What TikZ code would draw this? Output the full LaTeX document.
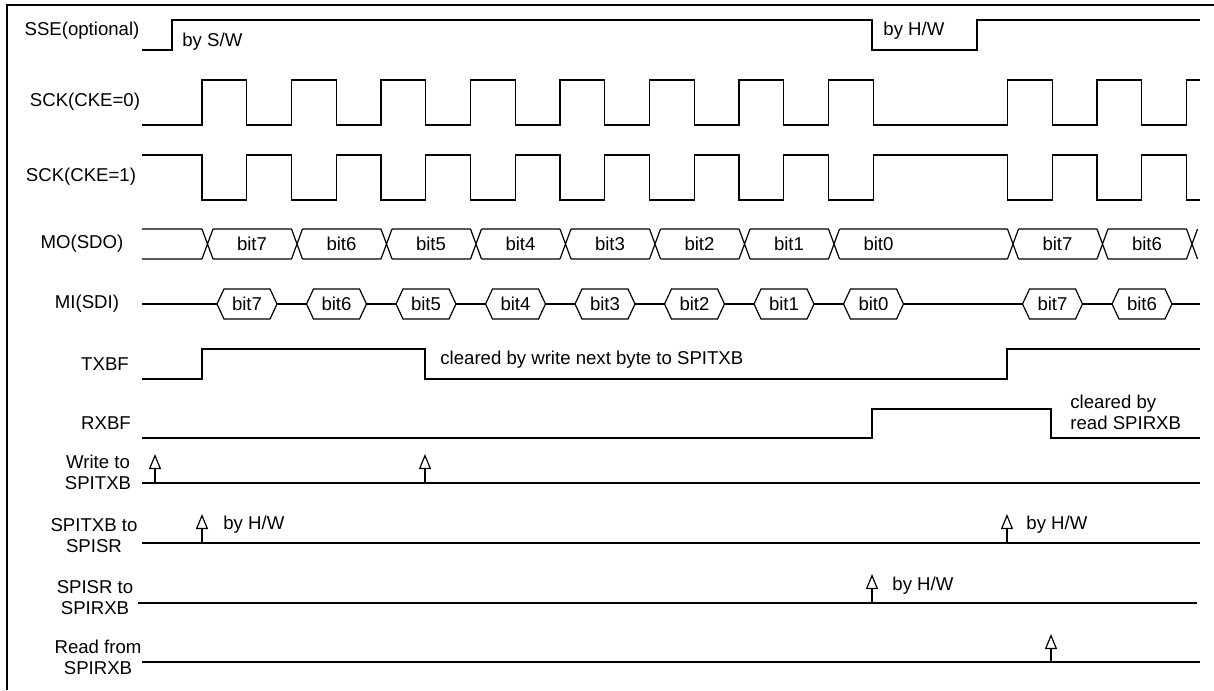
\documentclass[tikz,border=0pt]{standalone}
\usepackage{fontspec}
\setmainfont{Liberation Sans}
\usetikzlibrary{arrows.meta}

\tikzset{
    sig/.style={line width=0.6pt},
    lbl/.style={font=\fontsize{9.3}{10.5}\selectfont, inner sep=0pt},
    evt/.style={-{Triangle[open,length=7.5pt,width=6pt]}, line width=0.6pt},
}

\begin{document}
\begin{tikzpicture}[x=0.5pt, y=-0.5pt]
    \useasboundingbox (0,0) rectangle (1214,690);
    \draw[line width=1pt] (7,690) -- (7,5) -- (1214,5);

    % signal names
    \node[lbl] (sse) at (82,31) {SSE(optional)};
    \node[lbl] (sckA) at (85,102) {SCK(CKE=0)};
    \node[lbl] (sckB) at (81,177) {SCK(CKE=1)};
    \node[lbl] (mo) at (82,244) {MO(SDO)};
    \node[lbl] (mi) at (87,304) {MI(SDI)};
    \node[lbl] (txbf) at (105,364) {TXBF};
    \node[lbl] (rxbf) at (106,423) {RXBF};
    \node[lbl, align=center] (wrtx) at (98,472) {Write to\\SPITXB};
    \node[lbl, align=center] (txsr) at (94,536) {SPITXB to\\SPISR};
    \node[lbl, align=center] (srrx) at (95,598) {SPISR to\\SPIRXB};
    \node[lbl, align=center] (rdrx) at (98,657) {Read from\\SPIRXB};

    % SSE
    \draw[sig] (142,50) -- (172,50) -- (172,20) -- (872,20) -- (872,50) -- (977,50) -- (977,20) -- (1200,20);
    \node[lbl, anchor=west] (bysw) at (182,42) {by S/W};
    \node[lbl, anchor=west] (byhwA) at (883,31) {by H/W};

    % clocks
    \draw[sig] (142,125) foreach \k in {0,1,2,3,4,5,6,7,9,10} {
        -- ({202+89.5*\k},125) -- ({202+89.5*\k},80) -- ({246.75+89.5*\k},80) -- ({246.75+89.5*\k},125)
    } -- (1186.5,125) -- (1186.5,80) -- (1200,80);
    \draw[sig] (142,155) foreach \k in {0,1,2,3,4,5,6,7,9,10} {
        -- ({202+89.5*\k},155) -- ({202+89.5*\k},200) -- ({246.75+89.5*\k},200) -- ({246.75+89.5*\k},155)
    } -- (1186.5,155) -- (1186.5,200) -- (1200,200);

    % MO bus
    \foreach \a/\b in {136.5/207.5, 207.5/297, 297/386.5, 386.5/476, 476/565.5, 565.5/655,
                      655/744.5, 744.5/834, 834/1013, 1013/1102.5, 1102.5/1192} {
        \draw[sig] (\a+5.5,229) -- (\b-5.5,229) (\a+5.5,259) -- (\b-5.5,259)
            (\b-5.5,229) -- (\b+5.5,259) (\b-5.5,259) -- (\b+5.5,229);
    }
    \foreach \k/\t in {0/bit7,1/bit6,2/bit5,3/bit4,4/bit3,5/bit2,6/bit1,7/bit0,9/bit7,10/bit6}
        \node[lbl] (mo\k) at ({252+89.5*\k},244) {\t};

    % MI bus
    \draw[sig] (142,304) -- (1200,304);
    \foreach \k/\t in {0/bit7,1/bit6,2/bit5,3/bit4,4/bit3,5/bit2,6/bit1,7/bit0,9/bit7,10/bit6} {
        \draw[sig, fill=white] ({217+89.5*\k},304) -- ++(7,-15) -- ++(46,0) -- ++(7,15)
            -- ++(-7,15) -- ++(-46,0) -- cycle;
        \node[lbl] (mi\k) at ({247+89.5*\k},304) {\t};
    }

    % TXBF, RXBF
    \draw[sig] (142,379) -- (202,379) -- (202,349) -- (425,349) -- (425,379) -- (1007,379) -- (1007,349) -- (1200,349);
    \node[lbl, anchor=west] (txclr) at (440,360) {cleared by write next byte to SPITXB};
    \draw[sig] (142,438) -- (872,438) -- (872,409) -- (1051,409) -- (1051,438) -- (1200,438);
    \node[lbl, anchor=west, align=left] (rxclr) at (1070,412) {cleared by\\read SPIRXB};

    % events
    \draw[sig] (142,483) -- (1200,483);
    \draw[evt] (155,483) -- (155,454);
    \draw[evt] (425,483) -- (425,454);
    \draw[sig] (142,543) -- (1200,543);
    \draw[evt] (202,543) -- (202,514);
    \node[lbl, anchor=west] (byhwB) at (223,525) {by H/W};
    \draw[evt] (1007,543) -- (1007,514);
    \node[lbl, anchor=west] (byhwC) at (1026,525) {by H/W};
    \draw[sig] (138,603) -- (1197,603);
    \draw[evt] (872,603) -- (872,574);
    \node[lbl, anchor=west] (byhwD) at (892,586) {by H/W};
    \draw[sig] (142,662) -- (1200,662);
    \draw[evt] (1051,662) -- (1051,634);
\end{tikzpicture}
\end{document}
